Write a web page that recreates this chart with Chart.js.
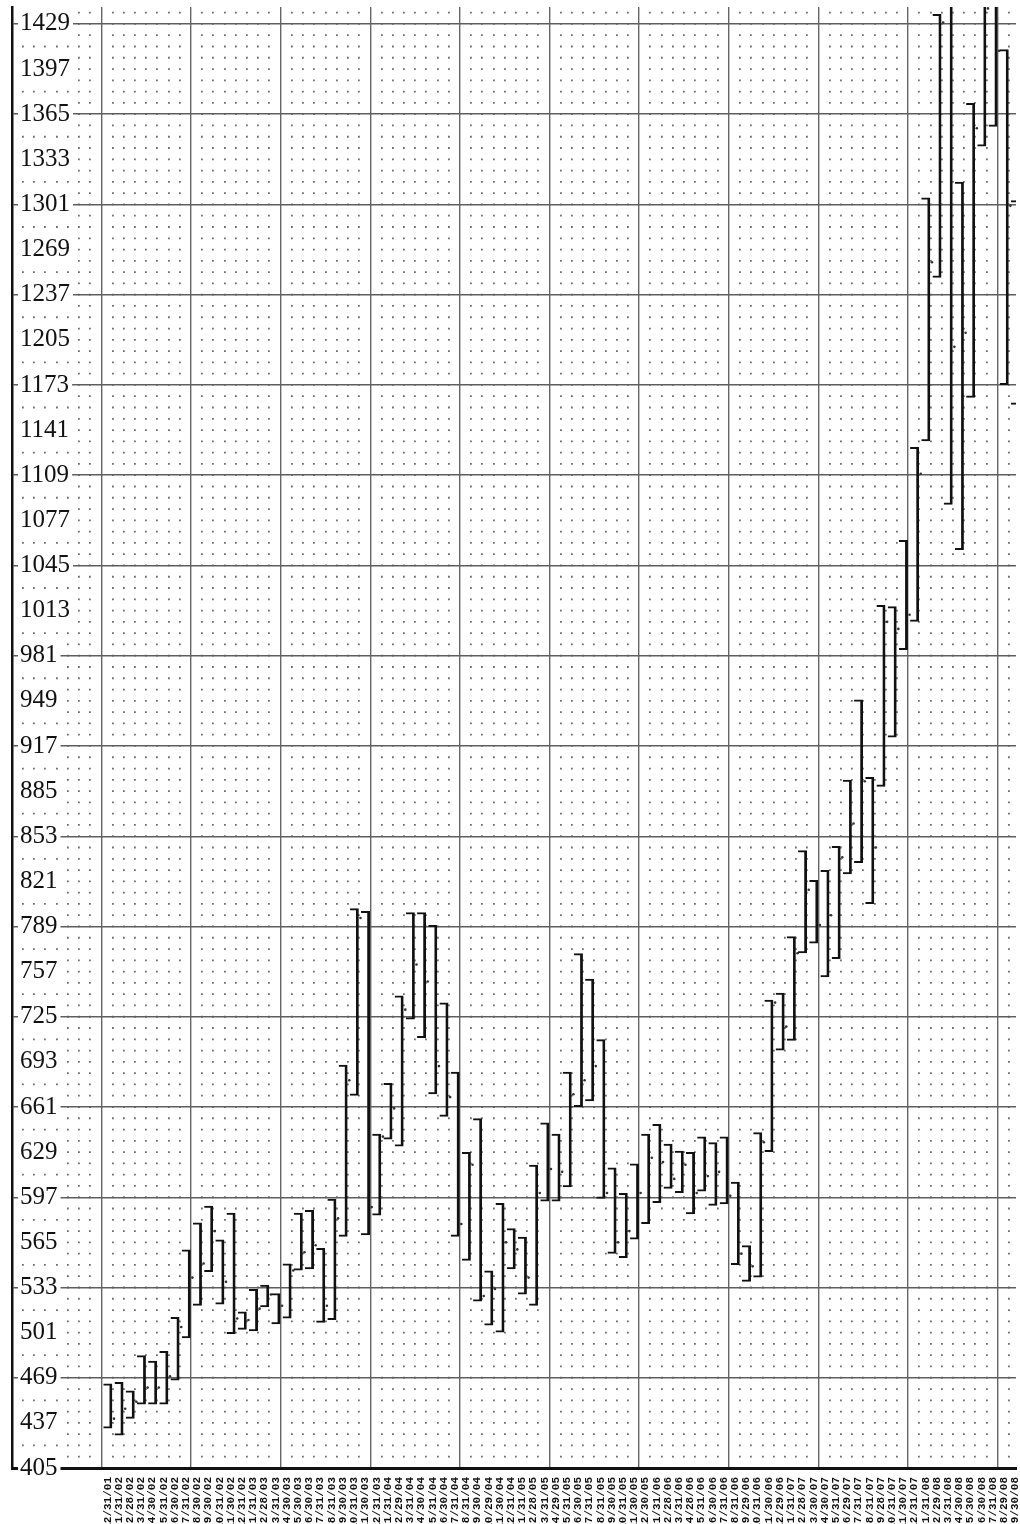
<!DOCTYPE html>
<html>
<head>
<meta charset="utf-8">
<script src="https://cdn.jsdelivr.net/npm/chart.js@4.4.1/dist/chart.umd.min.js"></script>
<style>
  html, body { margin: 0; padding: 0; background: #fff; }
  #priceChart { display: block; }
</style>
</head>
<body>
<canvas id="priceChart" width="1020" height="1524"></canvas>
<script>
// month-end dates, one bar each
const dates = [
  '12/31/01', '1/31/02', '2/28/02', '3/31/02', '4/30/02', '5/31/02', '6/30/02', '7/31/02', '8/30/02', '9/30/02', '10/31/02', '11/30/02',
  '12/31/02', '1/31/03', '2/28/03', '3/31/03', '4/30/03', '5/30/03', '6/30/03', '7/31/03', '8/31/03', '9/30/03', '10/31/03', '11/30/03',
  '12/31/03', '1/31/04', '2/29/04', '3/31/04', '4/30/04', '5/31/04', '6/30/04', '7/31/04', '8/31/04', '9/30/04', '10/29/04', '11/30/04',
  '12/31/04', '1/31/05', '2/28/05', '3/31/05', '4/29/05', '5/31/05', '6/30/05', '7/31/05', '8/31/05', '9/30/05', '10/31/05', '11/30/05',
  '12/30/05', '1/31/06', '2/28/06', '3/31/06', '4/28/06', '5/31/06', '6/30/06', '7/31/06', '8/31/06', '9/29/06', '10/31/06', '11/30/06',
  '12/29/06', '1/31/07', '2/28/07', '3/30/07', '4/30/07', '5/31/07', '6/29/07', '7/31/07', '8/31/07', '9/28/07', '10/31/07', '11/30/07',
  '12/31/07', '1/31/08', '2/29/08', '3/31/08', '4/30/08', '5/30/08', '6/30/08', '7/31/08', '8/29/08', '9/30/08'
];

const highs = [
  465, 466, 460, 485, 481, 488, 512, 560, 579, 591, 567, 586,
  516, 532, 535, 529, 550, 586, 588, 561, 596, 691, 802, 800,
  642, 678, 740, 799, 799, 790, 735, 686, 629, 653, 545, 593,
  575, 569, 620, 650, 642, 686, 770, 752, 709, 618, 600, 621,
  642, 649, 635, 630, 629, 640, 636, 640, 608, 563, 643, 737,
  742, 782, 843, 822, 829, 846, 893, 950, 895, 1017, 1016, 1063,
  1129, 1306, 1436, 1460, 1317, 1373, 1460, 1460, 1411, 1304
];

const lows = [
  433, 428, 440, 450, 450, 450, 467, 497, 520, 544, 521, 500,
  503, 502, 519, 507, 511, 545, 546, 508, 510, 569, 669, 570,
  584, 638, 633, 723, 710, 670, 654, 569, 552, 523, 506, 501,
  546, 528, 520, 594, 594, 604, 661, 665, 596, 557, 554, 567,
  578, 593, 603, 600, 585, 601, 591, 592, 549, 537, 540, 629,
  701, 708, 770, 777, 753, 766, 826, 834, 805, 888, 923, 985,
  1005, 1133, 1249, 1088, 1056, 1164, 1342, 1356, 1173, 1159
];

const closes = [
  440, 447, 452, 462, 462, 470, 505, 540, 550, 573, 537, 511,
  510, 518, 528, 520, 545, 558, 563, 520, 582, 680, 795, 590,
  640, 660, 730, 762, 750, 690, 668, 578, 620, 527, 532, 565,
  560, 540, 600, 617, 615, 670, 680, 690, 600, 565, 573, 600,
  625, 622, 610, 620, 600, 612, 615, 598, 557, 548, 636, 735,
  718, 770, 815, 790, 797, 838, 862, 892, 845, 1005, 1000, 1010,
  1110, 1260, 1430, 1200, 1210, 1355, 1440, 1410, 1300, 1200
];

const yTicks = [
  405, 437, 469, 501, 533, 565, 597, 629, 661, 693, 725, 757, 789, 821, 853, 885, 917,
  949, 981, 1013, 1045, 1077, 1109, 1141, 1173, 1205, 1237, 1269, 1301, 1333, 1365, 1397, 1429
];

const Y_MIN = 405, Y_MAX = 1441;
const X_MIN = -8.55, X_MAX = 81.05;
const GRID_START = -0.58;   // first column line, just left of the first bar
const DOT = 1.8;

function isMajorCol(c) {
  return c.tick && Math.round(c.tick.value - GRID_START) % 8 === 0;
}

function dotPeriod(chart) {
  const y = chart.scales.y;
  return Math.abs(y.getPixelForValue(Y_MIN) - y.getPixelForValue(Y_MIN + 8));
}

const ctx = document.getElementById('priceChart').getContext('2d');
const priceChart = new Chart(ctx, {
  type: 'bar',
  data: {
    datasets: [
      {
        type: 'bar',
        label: 'Range',
        data: dates.map((d, i) => ({ x: i, y: [lows[i], highs[i]] })),
        xAxisID: 'x',
        yAxisID: 'y',
        backgroundColor: 'rgba(0,0,0,0)',
        borderColor: '#111',
        borderWidth: { top: 2, bottom: 2, left: 0, right: 2.8 },
        borderSkipped: false,
        barThickness: 9,
        inflateAmount: 0
      },
      {
        type: 'line',
        label: 'Close',
        data: dates.map((d, i) => ({ x: i + 0.55, y: closes[i] })),
        xAxisID: 'x',
        yAxisID: 'y',
        showLine: false,
        pointRadius: 1.3,
        pointBackgroundColor: '#333',
        pointBorderWidth: 0
      }
    ]
  },
  options: {
    responsive: false,
    animation: false,
    devicePixelRatio: 1,
    layout: { padding: { top: 7, left: 0, right: 0, bottom: 0 } },
    plugins: {
      legend: { display: false },
      tooltip: { enabled: false }
    },
    scales: {
      x: {
        type: 'linear',
        position: 'bottom',
        offset: false,
        min: X_MIN,
        max: X_MAX,
        afterBuildTicks: s => { s.ticks = dates.map((d, i) => ({ value: i })); },
        afterFit: s => { s.height = 56; s.paddingLeft = 0; s.paddingRight = 0; },
        grid: { display: false, offset: false },
        border: { display: true, color: '#111', width: 3 },
        ticks: {
          autoSkip: false,
          minRotation: 90,
          maxRotation: 90,
          padding: 1,
          color: '#111',
          font: { family: 'Liberation Mono', size: 11, weight: 'bold' },
          callback: v => dates[Math.round(v)]
        }
      },
      x2: {
        type: 'linear',
        position: 'bottom',
        display: true,
        offset: false,
        min: X_MIN,
        max: X_MAX,
        afterBuildTicks: s => {
          const t = [];
          for (let k = Math.ceil(X_MIN - GRID_START); GRID_START + k <= X_MAX; k++) {
            t.push({ value: GRID_START + k });
          }
          s.ticks = t;
        },
        afterFit: s => { s.height = 0; s.paddingLeft = 0; s.paddingRight = 0; },
        ticks: { display: false },
        grid: {
          offset: false,
          drawTicks: false,
          color: c => isMajorCol(c) ? '#666' : '#6e6e6e',
          lineWidth: c => isMajorCol(c) ? 1.4 : DOT
        },
        border: {
          display: false,
          // dotted columns: one dot every 8 units up the price scale
          dash: c => {
            if (!c.tick || isMajorCol(c)) return [];
            const p = dotPeriod(c.chart);
            return [DOT, p - DOT];
          },
          dashOffset: c => {
            if (!c.tick) return 0;
            const y = c.chart.scales.y;
            const p = dotPeriod(c.chart);
            const s0 = (y.getPixelForValue(Y_MIN) - c.chart.chartArea.top) % p;
            return DOT / 2 - s0;
          }
        }
      },
      y: {
        type: 'linear',
        position: 'left',
        min: Y_MIN,
        max: Y_MAX,
        afterBuildTicks: s => { s.ticks = yTicks.map(v => ({ value: v })); },
        afterFit: s => { s.width = 12; s.paddingTop = 0; s.paddingBottom = 0; },
        grid: {
          drawTicks: false,
          color: c => c.tick && (c.tick.value - Y_MIN) % 64 === 0 ? '#5e5e5e' : 'rgba(0,0,0,0)',
          lineWidth: 1.4
        },
        border: { display: true, color: '#111', width: 2.5 },
        ticks: {
          mirror: true,
          padding: 8,
          z: 1,
          color: '#111',
          font: { family: 'Liberation Serif', size: 25 },
          showLabelBackdrop: true,
          backdropColor: '#fff',
          backdropPadding: { left: 2, right: 3, top: 0, bottom: 0 },
          callback: v => String(v)
        }
      }
    }
  }
});
</script>
</body>
</html>
